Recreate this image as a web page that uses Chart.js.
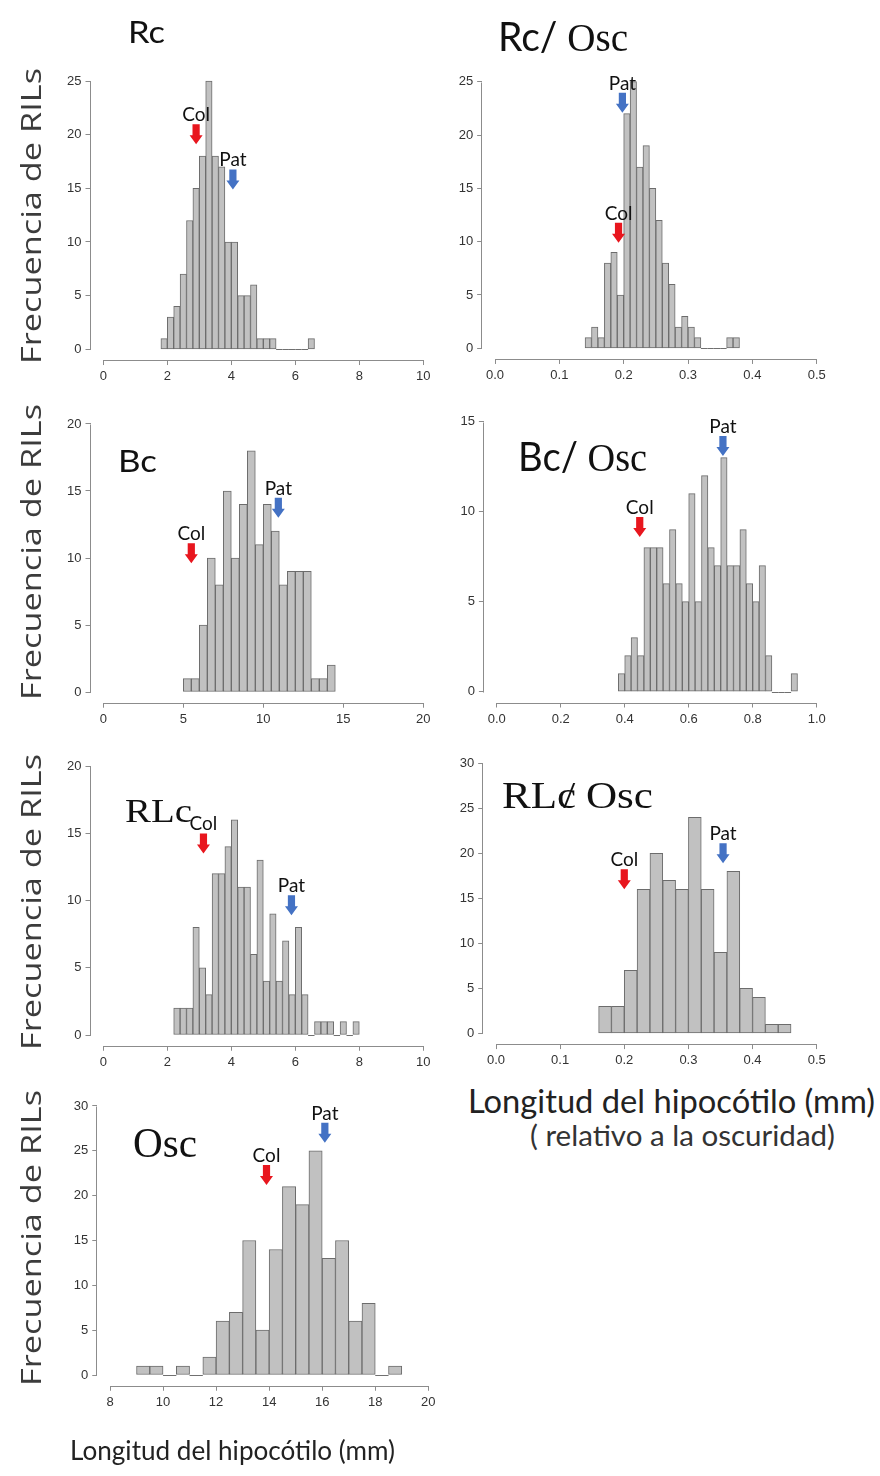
<!DOCTYPE html>
<html>
<head>
<meta charset="utf-8">
<script src="https://cdn.jsdelivr.net/npm/chart.js@4.4.1/dist/chart.umd.min.js"></script>
<style>
html,body{margin:0;padding:0;background:#fff;}
#fig{position:relative;width:880px;height:1476px;overflow:hidden;background:#fff;}
#fig canvas{position:absolute;}
.t{position:absolute;white-space:nowrap;line-height:normal;}
</style>
</head>
<body>
<div id="fig"></div>
<script>
// ================= DATA =================
const parentLabels = ['Col', 'Pat'];

// Rc
const rcBinStart = 1.8, rcBinWidth = 0.2;
const rcCounts = [1,3,4,7,12,15,18,25,18,17,10,10,5,5,6,1,1,1,0,0,0,0,0,1];
const rcXTicks = [0,2,4,6,8,10];
const rcYTicks = [0,5,10,15,20,25];
const rcParentX = [2.9, 4.05];
const rcParentY = [19.1, 14.9];

// Rc / Osc
const rcOscBinStart = 0.14, rcOscBinWidth = 0.01;
const rcOscCounts = [1,2,1,8,9,5,22,25,17,19,15,12,8,6,2,3,2,1,0,0,0,0,1,1];
const rcOscXTicks = [0.0,0.1,0.2,0.3,0.4,0.5];
const rcOscYTicks = [0,5,10,15,20,25];
const rcOscParentX = [0.192, 0.198];
const rcOscParentY = [9.9, 22.1];

// Bc
const bcBinStart = 5.0, bcBinWidth = 0.5;
const bcCounts = [1,1,5,10,8,15,10,14,18,11,14,12,8,9,9,9,1,1,2];
const bcXTicks = [0,5,10,15,20];
const bcYTicks = [0,5,10,15,20];
const bcParentX = [5.5, 10.94];
const bcParentY = [9.6, 13.0];

// Bc / Osc
const bcOscBinStart = 0.38, bcOscBinWidth = 0.02;
const bcOscCounts = [1,2,3,2,8,8,8,6,9,6,5,11,5,12,8,7,13,7,7,9,6,5,7,2,0,0,0,1];
const bcOscXTicks = [0.0,0.2,0.4,0.6,0.8,1.0];
const bcOscYTicks = [0,5,10,15];
const bcOscParentX = [0.447, 0.707];
const bcOscParentY = [8.6, 13.1];

// RLc
const rlcBinStart = 2.2, rlcBinWidth = 0.2;
const rlcCounts = [2,2,2,8,5,3,12,12,14,16,11,11,6,13,4,9,4,7,3,8,3,0,1,1,1,0,1,0,1];
const rlcXTicks = [0,2,4,6,8,10];
const rlcYTicks = [0,5,10,15,20];
const rlcParentX = [3.13, 5.88];
const rlcParentY = [13.5, 8.9];

// RLc / Osc
const rlcOscBinStart = 0.16, rlcOscBinWidth = 0.02;
const rlcOscCounts = [3,3,7,16,20,17,16,24,16,9,18,5,4,1,1];
const rlcOscXTicks = [0.0,0.1,0.2,0.3,0.4,0.5];
const rlcOscYTicks = [0,5,10,15,20,25,30];
const rlcOscParentX = [0.2, 0.354];
const rlcOscParentY = [16.0, 18.9];

// Osc
const oscBinStart = 9.0, oscBinWidth = 0.5;
const oscCounts = [1,1,0,1,0,2,6,7,15,5,14,21,19,25,13,15,6,8,0,1];
const oscXTicks = [8,10,12,14,16,18,20];
const oscYTicks = [0,5,10,15,20,25,30];
const oscParentX = [13.9, 16.1];
const oscParentY = [21.2, 25.9];

const yAxisTitle = 'Frecuencia de RILs';
const xAxisTitle = 'Longitud del hipocótilo (mm)';
const xAxisTitleRel = '( relativo a la oscuridad)';

// ================= LAYOUT (page pixels of first/last x tick, y=0, top y tick) =================
const panels = [
  {counts: rcCounts, start: rcBinStart, width: rcBinWidth, xTicks: rcXTicks, yTicks: rcYTicks, px: rcParentX, py: rcParentY, dec: 0, frame: [103.3, 423.3, 349.3, 81]},
  {counts: rcOscCounts, start: rcOscBinStart, width: rcOscBinWidth, xTicks: rcOscXTicks, yTicks: rcOscYTicks, px: rcOscParentX, py: rcOscParentY, dec: 1, frame: [495, 816.7, 348.3, 81.7]},
  {counts: bcCounts, start: bcBinStart, width: bcBinWidth, xTicks: bcXTicks, yTicks: bcYTicks, px: bcParentX, py: bcParentY, dec: 0, frame: [103.3, 423.3, 692, 424]},
  {counts: bcOscCounts, start: bcOscBinStart, width: bcOscBinWidth, xTicks: bcOscXTicks, yTicks: bcOscYTicks, px: bcOscParentX, py: bcOscParentY, dec: 1, frame: [496.7, 816.7, 691.7, 421.7]},
  {counts: rlcCounts, start: rlcBinStart, width: rlcBinWidth, xTicks: rlcXTicks, yTicks: rlcYTicks, px: rlcParentX, py: rlcParentY, dec: 0, frame: [103.3, 423.3, 1035, 766]},
  {counts: rlcOscCounts, start: rlcOscBinStart, width: rlcOscBinWidth, xTicks: rlcOscXTicks, yTicks: rlcOscYTicks, px: rlcOscParentX, py: rlcOscParentY, dec: 1, frame: [496, 816.7, 1033.3, 763.3]},
  {counts: oscCounts, start: oscBinStart, width: oscBinWidth, xTicks: oscXTicks, yTicks: oscYTicks, px: oscParentX, py: oscParentY, dec: 0, frame: [110, 428.3, 1375, 1106]}
];

const fig = document.getElementById('fig');
const AXIS_COLOR = '#8c8c8c';
const TICK_FONT = {family: '"Liberation Sans", Arial, sans-serif', size: 13};

// R-style axes: lines only from first to last tick, and grey baseline under empty bins
const rAxes = {
  id: 'rAxes',
  afterDatasetsDraw(chart, args, o) {
    const {ctx, chartArea: a, scales: {x, y}} = chart;
    ctx.save();
    ctx.strokeStyle = AXIS_COLOR;
    ctx.lineWidth = 1;
    ctx.beginPath();
    const xl = Math.round(a.left) - 0.5;
    ctx.moveTo(xl, Math.round(y.getPixelForValue(o.yMin)) + 0.5);
    ctx.lineTo(xl, Math.round(y.getPixelForValue(o.yMax)) + 0.5);
    const yb = Math.round(a.bottom) + 0.5;
    ctx.moveTo(x.getPixelForValue(o.xMin), yb);
    ctx.lineTo(x.getPixelForValue(o.xMax), yb);
    ctx.stroke();
    // baseline under empty bins (R draws zero-height rectangles)
    const meta = chart.getDatasetMeta(0);
    ctx.strokeStyle = '#707070';
    ctx.beginPath();
    const y0 = Math.round(y.getPixelForValue(0)) + 0.5;
    meta.data.forEach((bar, i) => {
      if (chart.data.datasets[0].data[i].y === 0) {
        ctx.moveTo(bar.x - bar.width / 2, y0);
        ctx.lineTo(bar.x + bar.width / 2, y0);
      }
    });
    ctx.stroke();
    ctx.restore();
  }
};

// Parent (Col / Pat) arrows
const parentArrows = {
  id: 'parentArrows',
  afterDatasetsDraw(chart, args, o) {
    const {ctx, scales: {x, y}} = chart;
    const colors = ['#e8161e', '#4472c4'];
    o.xs.forEach((xv, i) => {
      const px = x.getPixelForValue(xv);
      const py = y.getPixelForValue(o.ys[i]);
      ctx.save();
      ctx.fillStyle = colors[i];
      const headH = 9, headW = 6.5, shaftW = 3.6, total = 20;
      ctx.beginPath();
      ctx.moveTo(px - shaftW, py - total);
      ctx.lineTo(px + shaftW, py - total);
      ctx.lineTo(px + shaftW, py - headH);
      ctx.lineTo(px + headW, py - headH);
      ctx.lineTo(px, py);
      ctx.lineTo(px - headW, py - headH);
      ctx.lineTo(px - shaftW, py - headH);
      ctx.closePath();
      ctx.fill();
      ctx.fillStyle = '#111';
      ctx.font = '19px Lato, "Open Sans", sans-serif';
      ctx.textAlign = 'center';
      ctx.textBaseline = 'alphabetic';
      ctx.fillText(parentLabels[i], px, py - 23);
      ctx.restore();
    });
  }
};

panels.forEach(p => {
  const [x0px, x1px, y0px, yTopPx] = p.frame;
  const xMin = p.xTicks[0], xMax = p.xTicks[p.xTicks.length - 1];
  const yTop = p.yTicks[p.yTicks.length - 1];
  const xr = xMax - xMin;
  const padX = 0.04 * xr, padY = 0.04 * yTop;
  const kx = (x1px - x0px) / xr, ky = (y0px - yTopPx) / yTop;
  const areaL = x0px - padX * kx, areaR = x1px + padX * kx;
  const areaT = yTopPx - padY * ky, areaB = y0px + padY * ky;
  const L = Math.floor(areaL - 60), T = Math.floor(areaT - 50);
  const W = Math.ceil(areaR + 20 - L), H = Math.ceil(areaB + 34 - T);
  const yW = areaL - L, padT = areaT - T, padR = L + W - areaR, xH = T + H - areaB;

  const cv = document.createElement('canvas');
  cv.width = W; cv.height = H;
  cv.style.left = L + 'px'; cv.style.top = T + 'px';
  cv.style.width = W + 'px'; cv.style.height = H + 'px';
  fig.appendChild(cv);

  const data = p.counts.map((c, i) => ({x: p.start + (i + 0.5) * p.width, y: c}));

  new Chart(cv, {
    type: 'bar',
    data: {datasets: [{
      data: data,
      backgroundColor: '#c1c1c1',
      borderColor: '#6c6c6c',
      borderWidth: 1,
      borderSkipped: false,
      barPercentage: 1,
      categoryPercentage: 1
    }]},
    options: {
      responsive: false,
      animation: false,
      devicePixelRatio: 1,
      events: [],
      layout: {padding: {left: 0, top: padT, right: padR, bottom: 0}},
      plugins: {
        legend: {display: false},
        tooltip: {enabled: false},
        rAxes: {xMin: xMin, xMax: xMax, yMin: 0, yMax: yTop},
        parentArrows: {xs: p.px, ys: p.py}
      },
      scales: {
        x: {
          type: 'linear', min: xMin - padX, max: xMax + padX, bounds: 'data', offset: false,
          afterBuildTicks: s => { s.ticks = p.xTicks.map(v => ({value: v})); },
          afterFit: s => { s.height = xH; },
          grid: {display: true, drawOnChartArea: false, drawTicks: true, tickLength: 5, color: AXIS_COLOR, offset: false},
          border: {display: false},
          ticks: {autoSkip: false, maxRotation: 0, minRotation: 0, padding: 4, color: '#333', font: TICK_FONT,
                  callback: v => Number(v).toFixed(p.dec)}
        },
        y: {
          type: 'linear', min: -padY, max: yTop + padY, bounds: 'data',
          afterBuildTicks: s => { s.ticks = p.yTicks.map(v => ({value: v})); },
          afterFit: s => { s.width = yW; },
          grid: {display: true, drawOnChartArea: false, drawTicks: true, tickLength: 5, color: AXIS_COLOR},
          border: {display: false},
          ticks: {autoSkip: false, padding: 4, color: '#333', font: TICK_FONT, callback: v => String(v)}
        }
      }
    },
    plugins: [rAxes, parentArrows]
  });
});

// ================= TEXT (real HTML text) =================
function addText(parts, o) {
  const d = document.createElement('div');
  d.className = 't';
  d.style.color = o.color || '#111';
  parts.forEach(pt => {
    const s = document.createElement('span');
    s.textContent = pt.text;
    s.style.font = pt.font;
    if (pt.css) s.style.cssText += pt.css;
    d.appendChild(s);
  });
  const mark = document.createElement('span');
  mark.style.cssText = 'display:inline-block;width:0;height:0;vertical-align:baseline;';
  d.appendChild(mark);
  d.style.left = '0px'; d.style.top = '0px';
  fig.appendChild(d);
  const r = d.getBoundingClientRect();
  const w = r.width, h = r.height;
  if (o.rotate) {
    const s = o.length / w;
    d.style.left = (o.cx - w / 2) + 'px';
    d.style.top = (o.cy - h / 2) + 'px';
    d.style.transformOrigin = '50% 50%';
    d.style.transform = 'rotate(-90deg) scaleX(' + s + ')';
  } else {
    const s = o.width / w;
    const base = mark.offsetTop;
    d.style.left = o.left + 'px';
    d.style.top = (o.baseline - base) + 'px';
    d.style.transformOrigin = '0 0';
    d.style.transform = 'scaleX(' + s + ')';
  }
}

const SANS = 'Lato, "Open Sans", sans-serif';
const SERIF = '"Liberation Serif", "Times New Roman", serif';

// panel titles
addText([{text: 'Rc', font: '30px ' + SANS}], {left: 128, baseline: 43, width: 37});
addText([{text: 'Rc/', font: '40px ' + SANS}, {text: ' Osc', font: '40px ' + SERIF}], {left: 498, baseline: 51, width: 130});
addText([{text: 'Bc', font: '30px ' + SANS}], {left: 118, baseline: 472, width: 39});
addText([{text: 'Bc/', font: '40px ' + SANS}, {text: ' Osc', font: '40px ' + SERIF}], {left: 518, baseline: 471, width: 129});
addText([{text: 'RLc', font: '33px ' + SERIF}], {left: 125, baseline: 822, width: 67});
addText([{text: 'RLc', font: '38px ' + SERIF}, {text: '/', font: '38px ' + SERIF, css: 'margin-left:-0.3em;'}, {text: ' Osc', font: '38px ' + SERIF}], {left: 502, baseline: 808, width: 151});
addText([{text: 'Osc', font: '42px ' + SERIF}], {left: 133, baseline: 1157, width: 64});

// y-axis titles
[216, 552, 902, 1238].forEach(cy => {
  addText([{text: yAxisTitle, font: '28px "Open Sans", sans-serif'}], {rotate: true, cx: 30, cy: cy, length: 296, color: '#3c3c3c'});
});

// x-axis titles
addText([{text: xAxisTitle, font: '27px ' + SANS}], {left: 70, baseline: 1460, width: 325, color: '#222'});
addText([{text: xAxisTitle, font: '32px ' + SANS}], {left: 468, baseline: 1113, width: 407, color: '#222'});
addText([{text: xAxisTitleRel, font: '28px ' + SANS}], {left: 530, baseline: 1146, width: 305, color: '#333'});
</script>
</body>
</html>
